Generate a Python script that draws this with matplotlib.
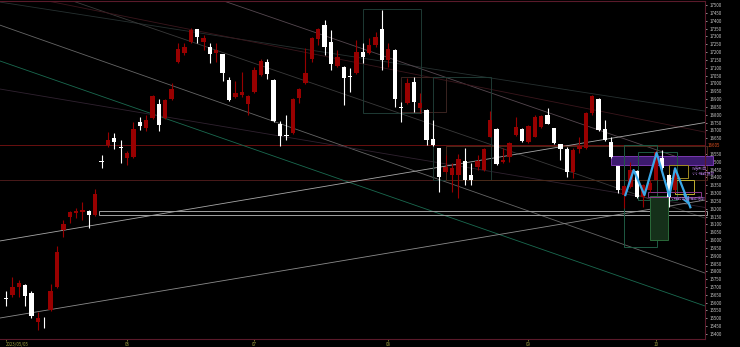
import matplotlib
matplotlib.use('Agg')
import matplotlib.pyplot as plt
from matplotlib.patches import Rectangle
import numpy as np

plt.rcParams['font.family'] = ['Noto Sans CJK TC', 'DejaVu Sans']

# 日足 OHLC (2023/05/05 から)
opens = [15630, 15649, 15700, 15713, 15662, 15477, 15483, 15553, 15700, 16064,
         16147, 16172, 16179, 16185, 16160, 16504, 16606, 16651, 16594, 16523,
         16530, 16753, 16715, 16779, 16868, 16779, 16900, 17136, 17194, 17264,
         17347, 17264, 17232, 17194, 17187, 17021, 16913, 16926, 16868, 16945,
         17053, 17136, 17021, 16741, 16670, 16683, 16906, 17002, 17155, 17283,
         17372, 17264, 17111, 17104, 17044, 17066, 17200, 17194, 17245, 17347,
         17149, 17213, 16849, 16875, 17009, 16843, 16830, 16645, 16587, 16434,
         16415, 16415, 16504, 16415, 16466, 16447, 16658, 16709, 16498, 16530,
         16670, 16709, 16626, 16658, 16721, 16798, 16715, 16613, 16581, 16434,
         16581, 16587, 16811, 16900, 16709, 16626, 16472, 16287, 16338, 16441,
         16275, 16319, 16383, 16523, 16415, 16319]
highs = [15674, 15764, 15745, 15719, 15674, 15541, 15509, 15719, 15962, 16128,
         16185, 16204, 16243, 16192, 16326, 16543, 16689, 16683, 16638, 16568,
         16753, 16785, 16798, 16925, 16900, 16900, 17002, 17257, 17257, 17353,
         17350, 17309, 17257, 17257, 17190, 17040, 17015, 17072, 16925, 17104,
         17155, 17155, 17025, 16760, 16798, 16905, 16968, 17226, 17296, 17353,
         17404, 17340, 17213, 17108, 17098, 17277, 17257, 17289, 17328, 17468,
         17257, 17217, 16881, 17034, 17040, 16938, 16835, 16766, 16590, 16543,
         16492, 16549, 16587, 16492, 16543, 16587, 16824, 16712, 16587, 16626,
         16785, 16712, 16734, 16798, 16798, 16843, 16718, 16615, 16594, 16587,
         16658, 16815, 16926, 16905, 16766, 16658, 16475, 16350, 16498, 16445,
         16355, 16383, 16574, 16574, 16420, 16460]
lows = [15579, 15636, 15636, 15579, 15502, 15426, 15438, 15548, 15695, 16019,
        16109, 16141, 16128, 16077, 16155, 16460, 16594, 16581, 16492, 16479,
        16525, 16702, 16696, 16775, 16696, 16775, 16895, 17130, 17181, 17260,
        17257, 17213, 17130, 17136, 17015, 16890, 16908, 16913, 16798, 16940,
        17048, 17028, 16753, 16600, 16638, 16678, 16875, 16998, 17136, 17245,
        17181, 17085, 17104, 16862, 16945, 17060, 17130, 17190, 17232, 17085,
        17104, 16849, 16753, 16870, 16817, 16811, 16606, 16600, 16306, 16428,
        16306, 16268, 16351, 16351, 16447, 16440, 16655, 16479, 16492, 16498,
        16666, 16628, 16619, 16655, 16718, 16738, 16613, 16511, 16402, 16396,
        16555, 16583, 16798, 16698, 16635, 16525, 16300, 16204, 16335, 16270,
        16211, 16306, 16380, 16447, 16211, 16306]
closes = [15625, 15700, 15726, 15643, 15515, 15502, 15480, 15674, 15923, 16102,
          16179, 16185, 16192, 16160, 16294, 16500, 16638, 16626, 16587, 16555,
          16709, 16728, 16766, 16919, 16734, 16894, 16964, 17219, 17232, 17340,
          17296, 17289, 17187, 17213, 17066, 16894, 16938, 16945, 16919, 17085,
          17143, 17060, 16760, 16664, 16664, 16900, 16964, 17066, 17289, 17347,
          17232, 17124, 17168, 17034, 17040, 17200, 17168, 17245, 17296, 17149,
          17219, 16900, 16845, 17002, 16881, 16875, 16638, 16606, 16402, 16466,
          16460, 16517, 16383, 16383, 16504, 16581, 16766, 16485, 16511, 16619,
          16721, 16632, 16728, 16785, 16792, 16741, 16619, 16581, 16434, 16574,
          16600, 16811, 16919, 16702, 16638, 16530, 16319, 16345, 16447, 16275,
          16351, 16364, 16562, 16460, 16275, 16447]

x_tick_pos = [0, 19, 39, 60, 82, 102]
x_tick_labels = ['2023/05/05', '06', '07', '08', '09', '10']

# 描画したトレンドライン (始点index, 始点価格, 終点index, 終点価格)
trend_lines = [
    (-0.94, 17372, 109.7, 15789, '#666666'),
    (-0.94, 17143, 109.7, 15579, '#1a6a50'),
    (-0.94, 16964, 109.7, 16208, '#302230'),
    (-0.94, 17519, 109.7, 16823, '#263030'),
    (33.75, 17532, 109.7, 16469, '#564850'),
    (10.05, 17532, 109.7, 16140, '#3a3a3a'),
    (5.8, 17532, 109.7, 16689, '#3a161c'),
    (-0.94, 15502, 109.7, 16255, '#8c8c8c'),
    (-0.94, 15994, 109.7, 16750, '#a8a8a8'),
]

# ボックス (x0, x1, 下限価格, 上限価格, 枠色, 塗り色)
boxes = [
    (56.0, 65.1, 16811, 17475, '#1e3a34', 'none'),
    (62.0, 69.1, 16817, 17040, '#3a2420', 'none'),
    (67.0, 76.1, 16383, 17040, '#1e3a34', 'none'),
    (69.0, 110.0, 16383, 16600, '#4a2a1a', 'none'),
    (14.6, 110.0, 16160, 16187, '#a0a0a0', 'none'),
    (95.0, 111.0, 16479, 16536, '#7a3ab0', '#3c1a6e'),
    (97.0, 102.2, 15955, 16606, '#1e5a44', 'none'),
    (99.2, 105.3, 16255, 16562, '#1e5a44', 'none'),
    (101.1, 103.9, 16000, 16281, '#2a6a3a', '#15301a'),
    (104.1, 107.1, 16396, 16479, '#a08a20', 'none'),
    (105.0, 108.0, 16294, 16383, '#c0b030', 'none'),
    (100.8, 109.1, 16275, 16306, '#8a3a8a', 'none'),
]

# W底のジグザグ
zig_x = [97.2, 98.5, 100.2, 102.1, 104.1, 105.0, 107.4]
zig_y = [16287, 16447, 16287, 16557, 16281, 16458, 16209]

h_lines = [(16605, '#6a1010'), (16383, '#4a1a1a')]
price_label = 16605

fig = plt.figure(figsize=(7.4, 3.47), dpi=100, facecolor='black')
ax = fig.add_axes([0, 8 / 347, 705 / 740, 338 / 347], facecolor='black')

for y, col in h_lines:
    ax.axhline(y, color=col, lw=0.7, zorder=1)

for x0, y0, x1, y1, col in trend_lines:
    ax.plot([x0, x1], [y0, y1], color=col, lw=0.6, zorder=1)

for x0, x1, lo, hi, ec, fc in boxes:
    ax.add_patch(Rectangle((x0, lo), x1 - x0, hi - lo, facecolor=fc,
                           edgecolor=ec, lw=0.7, zorder=2, clip_on=False))

idx = np.arange(len(opens))
o = np.array(opens)
c = np.array(closes)
up = c >= o
colors = np.where(up, '#980000', '#ffffff')
ax.vlines(idx, lows, highs, colors=colors, lw=0.8, zorder=3)
bottom = np.minimum(o, c)
height = np.maximum(np.abs(c - o), 5)
ax.bar(idx, height, bottom=bottom, width=0.68, color=colors, zorder=4)

ax.plot(zig_x, zig_y, color='#3aa8e8', lw=1.6, zorder=5)
ax.annotate('', xy=(zig_x[-1], zig_y[-1]), xytext=(zig_x[-2] + 1.2, zig_y[-2] - 150),
            arrowprops=dict(arrowstyle='->', color='#3aa8e8', lw=1.2), zorder=5)

ax.text(107.6, 16452, 'W底形成', color='#9a6ac0', fontsize=2.8, va='center', zorder=6)
ax.text(107.6, 16418, '小小確認頂部', color='#9a6ac0', fontsize=2.8, va='center', zorder=6)
ax.text(104.3, 16262, '小確認回檔確認底部', color='#9a6ac0', fontsize=2.8, va='center', zorder=6)

ax.set_xlim(-0.94, 109.7)
ax.set_ylim(15368, 17526)
ax.yaxis.tick_right()
ax.set_yticks(np.arange(15400, 17501, 50))
ax.set_yticklabels([str(v) if v != 16600 else '' for v in np.arange(15400, 17501, 50)])
ax.tick_params(axis='y', colors='#c8c8c8', labelsize=3.2, length=1.5, pad=1.5, width=0.5)
ax.set_xticks(x_tick_pos)
ax.set_xticklabels(x_tick_labels)
ax.tick_params(axis='x', colors='#a0a040', labelsize=3.2, length=1.5, pad=1, width=0.5)
for lab in ax.get_xticklabels():
    lab.set_color('#a0a040')
ax.get_xticklabels()[0].set_ha('left')

ax.text(1.003, (price_label - 15368) / (17526 - 15368), str(price_label),
        transform=ax.transAxes, color='#e05020', fontsize=3.2, va='center')

for side in ['top', 'bottom', 'right']:
    ax.spines[side].set_color('#5a1a2a')
    ax.spines[side].set_linewidth(0.8)
ax.spines['left'].set_visible(False)

plt.savefig('out.png', dpi=100, facecolor='black')
